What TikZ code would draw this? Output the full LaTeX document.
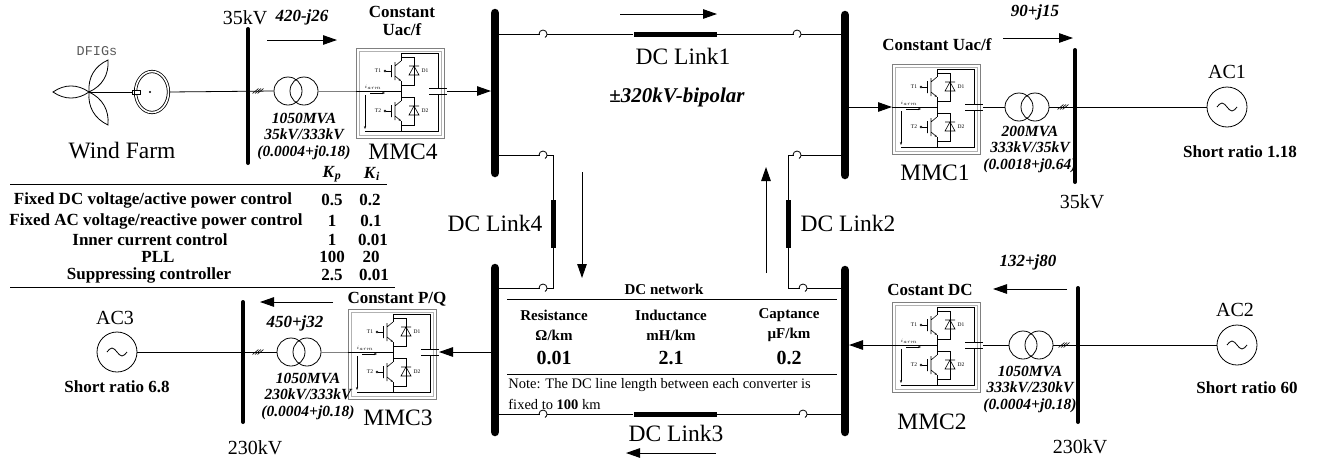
\documentclass[tikz,border=0pt]{standalone}
\usepackage{fontspec}
\setmainfont{Liberation Serif}
\setmonofont{Liberation Mono}
\usetikzlibrary{arrows.meta,shapes.geometric}

\tikzset{
  acbus/.style={line width=4pt, line cap=round},
  dcbus/.style={line width=8.5pt, line cap=round},
  flow/.style={-{Triangle[length=14pt,width=9.5pt]}, line width=1pt},
  xfm/.style={circle, draw, minimum size=28pt},
  acsrc/.style={circle, draw, minimum size=40pt},
  linkh/.style={fill, minimum width=83pt, minimum height=5pt},
  linkv/.style={fill, minimum width=5pt, minimum height=48pt},
  bigtxt/.style={font=\fontsize{23.5}{26}\selectfont},
  kvtxt/.style={font=\fontsize{20}{22}\selectfont},
  lab/.style={font=\fontsize{17}{18}\selectfont\bfseries, align=center},
  pq/.style={font=\fontsize{17}{19}\selectfont\bfseries\itshape},
  trf/.style={font=\fontsize{15.5}{16.5}\selectfont\bfseries\itshape, align=center},
  tab/.style={font=\fontsize{17}{18}\selectfont\bfseries},
  net/.style={font=\fontsize{15}{20}\selectfont\bfseries, align=center},
  netval/.style={font=\fontsize{20}{22}\selectfont\bfseries},
  note/.style={font=\fontsize{14.5}{16}\selectfont, anchor=west},
  tiny/.style={font=\fontsize{5.5}{6}\selectfont},
}

\begin{document}
\begin{tikzpicture}[x=1pt, y=-1pt, line width=0.8pt, every node/.style={inner sep=0pt}]
\useasboundingbox (0,0) rectangle (1317,461);

% converter stations
\foreach \nm/\bx/\by in {mmcfour/356/48, mmcthree/348/309, mmcone/892/64, mmctwo/892/302} {
  \begin{scope}[shift={(\bx,\by)}, line width=0.6pt]
    \draw[gray] (0,0) rectangle (88,90);
    \draw[gray!60] (3,3) rectangle (85,87);
    \draw (45,5) -- (82,5) -- (82,40) (82,46) -- (82,83) -- (9,83);
    \draw (73,40) -- (91,40) (73,46) -- (91,46);
    \draw (0,43) -- (45,43);
    \draw (45,5) -- (45,13) (45,33) -- (45,53) (45,73) -- (45,83);
    \foreach \o/\t/\d in {0/T1/D1, 40/T2/D2} {
      \draw (45,13+\o) -- (39,18+\o) (39,14+\o) -- (39,32+\o) (35.5,17+\o) -- (35.5,29+\o);
      \draw[-{Stealth[length=2.5pt]}] (39,28+\o) -- (45,33+\o);
      \draw (30,23+\o) -- (35.5,23+\o);
      \draw (29,23+\o) circle[radius=1pt];
      \draw (45,9+\o) -- (58,9+\o) -- (58,37+\o) -- (45,37+\o);
      \draw (53,27+\o) -- (63,27+\o) -- (58,18+\o) -- cycle (53,18+\o) -- (63,18+\o);
      \node[tiny] (\nm-\t) at (22,23+\o) {\t};
      \node[tiny] (\nm-\d) at (69,23+\o) {\d};
    }
    \draw[-{Stealth[length=3pt]}] (14,45) -- (29,45);
    \node[tiny] (\nm-i) at (17,39) {$i_{arm}$};
    \draw[-{Stealth[length=3pt]}] (9,47) -- (9,81);
    \coordinate (\nm-w) at (0,43);
    \coordinate (\nm-e) at (91,43);
  \end{scope}
}

% wind farm
\node[font=\fontsize{13.5}{15}\selectfont\ttfamily, text=gray!70!black] (dfig) at (97,51) {DFIGs};
\coordinate (hub) at (89,92);
\draw (hub) to[bend left=35] (53,92) to[bend left=35] (hub);
\draw (hub) to[bend left=35] (108,60) to[bend left=35] (hub);
\draw (hub) to[bend left=35] (108,125) to[bend left=35] (hub);
\node[ellipse, draw, double, double distance=1.6pt, minimum width=33pt, minimum height=41pt] (gen) at (152,92) {};
\draw (hub) -- (132,92);
\draw[fill=white] (132,90) rectangle (140,94);
\draw (134,88) -- (134,96);
\fill (150,92) circle[radius=1.2pt];
\node[bigtxt] (wf) at (122,151) {Wind Farm};

% 35kV bus of the wind farm
\coordinate (a4t) at (248,29);
\coordinate (a4b) at (248,163);
\node[xfm] (t4a) at (288,91) {};
\node[xfm] (t4b) at (304,91) {};
\coordinate (h4) at (258,91);
\draw (gen.east) -- (t4a.west);
\draw[gray] (t4b.east) -- (mmcfour-w);
\draw[acbus] (a4t) -- (a4b);
\node[kvtxt] (kv4) at (245,18) {35kV};
\node[pq] (pf4) at (302,17) {420-j26};
\coordinate (f4a) at (267,40);
\coordinate (f4b) at (337,40);
\draw[flow] (f4a) -- (f4b);
\node[trf] (t4txt) at (304,136) {1050MVA\\35kV/333kV\\(0.0004+j0.18)};
\node[lab] (c4) at (402,21) {Constant\\Uac/f};
\node[bigtxt] (m4) at (403,152) {MMC4};

% DC buses
\coordinate (b4t) at (495,13);  \coordinate (b4b) at (495,173);
\coordinate (b1t) at (845,15);  \coordinate (b1b) at (845,175);
\coordinate (b3t) at (495,268); \coordinate (b3b) at (495,432);
\coordinate (b2t) at (845,270); \coordinate (b2b) at (845,432);

% DC links
\node[linkh] (dl1) at (675,34) {};
\node[linkh] (dl3) at (675,414) {};
\node[linkv] (dl4) at (553,224) {};
\node[linkv] (dl2) at (788,224) {};
\coordinate (b4j) at (495,155);
\coordinate (b3j) at (495,288);
\coordinate (b1j) at (845,155);
\coordinate (b2j) at (845,288);
\draw (b4t |- dl1) -- (dl1.west);
\draw (dl1.east) -- (b1t |- dl1);
\draw (b3t |- dl3) -- (dl3.west);
\draw (dl3.east) -- (b2t |- dl3);
\draw (b4j) -| (dl4.north);
\draw (b3j) -| (dl4.south);
\draw (b1j) -| (dl2.north);
\draw (b2j) -| (dl2.south);
\coordinate (k1) at (543,34);  \coordinate (k2) at (797,34);
\coordinate (k3) at (543,155); \coordinate (k4) at (797,155);
\coordinate (k5) at (543,288); \coordinate (k6) at (803,288);
\coordinate (k7) at (543,414); \coordinate (k8) at (803,414);
\foreach \k in {1,...,8} {
  \fill[white] ([xshift=-3.5pt,yshift=-1pt]k\k) rectangle ([xshift=3.5pt,yshift=1pt]k\k);
  \draw ([xshift=-4pt]k\k) arc[start angle=180, end angle=-60, radius=4pt];
}
\draw[dcbus] (b4t) -- (b4b);
\draw[dcbus] (b1t) -- (b1b);
\draw[dcbus] (b3t) -- (b3b);
\draw[dcbus] (b2t) -- (b2b);
\node[bigtxt] (dl1t) at (683,56) {DC Link1};
\node[bigtxt] (dl2t) at (848,223) {DC Link2};
\node[bigtxt] (dl3t) at (676,433) {DC Link3};
\node[bigtxt] (dl4t) at (495,223) {DC Link4};
\node[font=\fontsize{21}{23}\selectfont\bfseries\itshape] (bip) at (677,97) {±320kV-bipolar};
\coordinate (fa1) at (620,14);  \coordinate (fb1) at (717,14);
\coordinate (fa2) at (766,273); \coordinate (fb2) at (766,167);
\coordinate (fa3) at (716,453); \coordinate (fb3) at (626,453);
\coordinate (fa4) at (582,172); \coordinate (fb4) at (582,278);
\draw[flow] (fa1) -- (fb1);
\draw[flow] (fa2) -- (fb2);
\draw[flow] (fa3) -- (fb3);
\draw[flow] (fa4) -- (fb4);

% converter to DC bus
\draw[flow, shorten >=4pt] (mmcfour-e) -- (mmcfour-e -| b4t);
\draw[flow, shorten <=4pt] (mmcone-w -| b1t) -- (mmcone-w);
\draw[flow, shorten <=4pt] (mmcthree-e -| b3t) -- (mmcthree-e);
\draw[flow, shorten >=4pt] (mmctwo-w) -- (mmctwo-w -| b2t);

% DC network data
\node[net] (dcn) at (664,289) {DC network};
\draw (507,299) -- (837,299);
\node[net] (res) at (554,325) {Resistance\\Ω/km};
\node[net] (ind) at (671,325) {Inductance\\mH/km};
\node[net] (cap) at (789,325) {Captance\\µF/km};
\node[netval] (resv) at (554,358) {0.01};
\node[netval] (indv) at (671,358) {2.1};
\node[netval] (capv) at (789,358) {0.2};
\draw (507,374) -- (837,374);
\node[note] (n1) at (508,385) {Note: The DC line length between each converter is};
\node[note] (n2) at (508,404) {fixed to \textbf{100} km};

% controller table
\node[tab] (kp) at (332,174) {\textit{K}\textsubscript{\textit{p}}};
\node[tab] (ki) at (372,174) {\textit{K}\textsubscript{\textit{i}}};
\draw (10,184) -- (387,184);
\node[tab] (r1) at (153,200) {Fixed DC voltage/active power control};
\node[tab] (r1p) at (332,200) {0.5};
\node[tab] (r1i) at (370,200) {0.2};
\node[tab] (r2) at (156,221) {Fixed AC voltage/reactive power control};
\node[tab] (r2p) at (332,221) {1};
\node[tab] (r2i) at (371,221) {0.1};
\node[tab] (r3) at (150,240) {Inner current control};
\node[tab] (r3p) at (332,240) {1};
\node[tab] (r3i) at (373,240) {0.01};
\node[tab] (r4) at (158,257) {PLL};
\node[tab] (r4p) at (332,257) {100};
\node[tab] (r4i) at (371,257) {20};
\node[tab] (r5) at (149,275) {Suppressing controller};
\node[tab] (r5p) at (332,275) {2.5};
\node[tab] (r5i) at (374,275) {0.01};
\draw (10,287) -- (395,287);

% AC3 side
\node[acsrc] (ac3) at (117,352) {};
\node[kvtxt] (ac3t) at (115,318) {AC3};
\node[lab] (sr3) at (117,387) {Short ratio 6.8};
\coordinate (a3t) at (243,302);
\coordinate (a3b) at (243,422);
\node[xfm] (t3a) at (291,352) {};
\node[xfm] (t3b) at (307,352) {};
\coordinate (h3) at (258,352);
\draw (ac3.east) -- (t3a.west);
\draw[gray] (t3b.east) -- (mmcthree-w);
\draw[acbus] (a3t) -- (a3b);
\coordinate (f3a) at (333,302);
\coordinate (f3b) at (260,302);
\draw[flow] (f3a) -- (f3b);
\node[pq] (pf3) at (295,323) {450+j32};
\node[trf] (t3txt) at (308,396) {1050MVA\\230kV/333kV\\(0.0004+j0.18)};
\node[lab] (c3) at (397,299) {Constant P/Q};
\node[bigtxt] (m3) at (398,418) {MMC3};
\node[kvtxt] (kv3) at (255,448) {230kV};

% AC1 side
\node[acsrc] (ac1) at (1227,107) {};
\node[kvtxt] (ac1t) at (1227,72) {AC1};
\node[lab] (sr1) at (1240,152) {Short ratio 1.18};
\coordinate (a1t) at (1075,50);
\coordinate (a1b) at (1075,182);
\node[xfm] (t1a) at (1019,107) {};
\node[xfm] (t1b) at (1035,107) {};
\coordinate (h1) at (1063,107);
\draw (mmcone-e) -- (t1a.west);
\draw (t1b.east) -- (ac1.west);
\draw[acbus] (a1t) -- (a1b);
\coordinate (f1a) at (1003,38);
\coordinate (f1b) at (1073,38);
\draw[flow] (f1a) -- (f1b);
\node[pq] (pf1) at (1035,12) {90+j15};
\node[trf] (t1txt) at (1030,149) {200MVA\\333kV/35kV\\(0.0018+j0.64)};
\node[lab] (c1) at (937,45) {Constant Uac/f};
\node[bigtxt] (m1) at (935,173) {MMC1};
\node[kvtxt] (kv1) at (1082,202) {35kV};

% AC2 side
\node[acsrc] (ac2) at (1237,345) {};
\node[kvtxt] (ac2t) at (1235,310) {AC2};
\node[lab] (sr2) at (1247,388) {Short ratio 60};
\coordinate (a2t) at (1078,288);
\coordinate (a2b) at (1078,422);
\node[xfm] (t2a) at (1023,345) {};
\node[xfm] (t2b) at (1039,345) {};
\coordinate (h2) at (1064,345);
\draw (mmctwo-e) -- (t2a.west);
\draw (t2b.east) -- (ac2.west);
\draw[acbus] (a2t) -- (a2b);
\coordinate (f2a) at (1067,289);
\coordinate (f2b) at (993,289);
\draw[flow] (f2a) -- (f2b);
\node[pq] (pf2) at (1028,262) {132+j80};
\node[trf] (t2txt) at (1030,389) {1050MVA\\333kV/230kV\\(0.0004+j0.18)};
\node[lab] (c2) at (930,290) {Costant DC};
\node[bigtxt] (m2) at (932,422) {MMC2};
\node[kvtxt] (kv2) at (1080,447) {230kV};

% sources and bus hatches
\foreach \s in {ac1,ac2,ac3}
  \draw ([xshift=-10pt]\s.center) sin ++(5pt,4pt) cos ++(5pt,-4pt) sin ++(5pt,-4pt) cos ++(5pt,4pt);
\foreach \h in {h1,h2,h3,h4}
  \foreach \d in {-2.5,0,2.5}
    \draw[line width=0.6pt] ([xshift=\d pt]\h) ++(-3pt,-2.5pt) -- ++(6pt,5pt);
\end{tikzpicture}
\end{document}
